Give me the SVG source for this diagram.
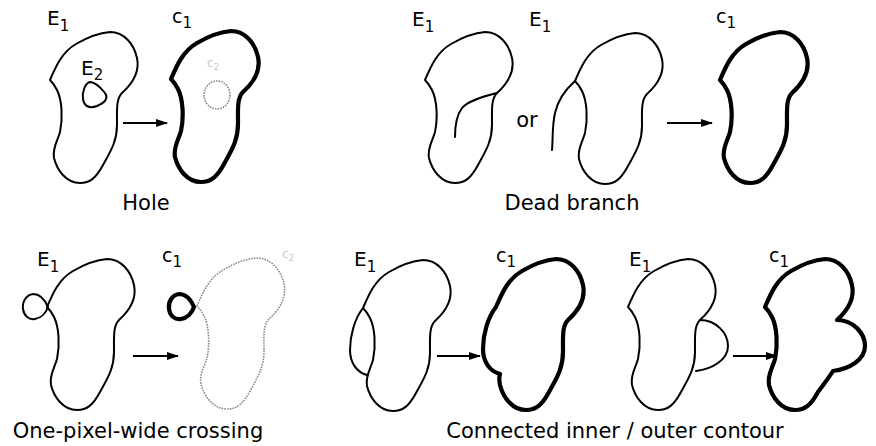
<svg xmlns="http://www.w3.org/2000/svg" xmlns:xlink="http://www.w3.org/1999/xlink" width="876" height="446" viewBox="0 0 876 446">
<style>
text{font-family:"DejaVu Sans","Liberation Sans",sans-serif;fill:#000}
.cap{font-size:21px;text-anchor:middle}
.lbl{font-size:20px}
.clbl{font-size:19px}
.sub{font-size:15px}
.ghost{font-size:12px;fill:#c8c8c8}
.thin{fill:none;stroke:#000;stroke-width:2;stroke-linejoin:round;stroke-linecap:round}
.thick{fill:none;stroke:#000;stroke-width:4.2;stroke-linejoin:round;stroke-linecap:round}
.gray{fill:none;stroke:#8a8a8a;stroke-width:1.6;stroke-dasharray:1.6 1.1}
.arrow{fill:none;stroke:#000;stroke-width:2}
</style>
<defs>
<path id="blob" d="M50,80 C56,66 62,52 76,44 C88,37 98,33 110,32 C124,32 134,44 137,58 C140,72 132,84 122,93 C116,99 117,110 117,125 C117,142 110,152 103,165 C96,178 90,183 80,183 C66,183 57,170 54,158 C52,148 58,140 60,132 C63,118 62,100 57,90 C55,86 53,83 50,80 Z"/>
<path id="blobLeft" d="M50,80 C56,66 62,52 76,44 C88,37 98,33 110,32 C124,32 134,44 137,58 C140,72 132,84 122,93 C116,99 117,110 117,125 C117,142 110,152 103,165 C96,178 90,183 80,183 C66,183 57,170 54,158 C53,153 53,150 54,147 C43,144 37,134 37,122 C37,107 42,90 50,80 Z"/>
<path id="blobRight" d="M50,80 C56,66 62,52 76,44 C88,37 98,33 110,32 C124,32 134,44 137,58 C140,72 132,84 122,93 C138,93 150,106 150,119 C150,133 134,142 118,144 C113,152 108,158 103,165 C96,178 90,183 80,183 C66,183 57,170 54,158 C52,148 58,140 60,132 C63,118 62,100 57,90 C55,86 53,83 50,80 Z"/>
<path id="loop" d="M48,307 C45,300 40,294 33,294 C26,295 22,302 23,309 C24,316 29,320 35,319 C41,318 46,313 48,307 Z"/>
<marker id="ah" markerWidth="12" markerHeight="8" refX="11" refY="4" orient="auto" markerUnits="userSpaceOnUse">
<path d="M0,0 L12,4 L0,8 Z" fill="#000"/>
</marker>
</defs>

<g id="hole-E1">
<use xlink:href="#blob" class="thin"/>
<text class="lbl" x="47" y="25">E<tspan class="sub" dy="6">1</tspan></text>
</g>
<g id="hole-E2">
<path class="thin" d="M90,82 C96,82 101,88 105,93 C109,99 104,103 97,106 C89,109 84,106 83,99 C82,92 85,83 90,82 Z"/>
<text class="lbl" x="81" y="75">E<tspan class="sub" dy="5">2</tspan></text>
</g>
<g id="hole-c1">
<use xlink:href="#blob" class="thick" transform="translate(121,-1)"/>
<text class="clbl" x="172" y="23">c<tspan class="sub" dy="5">1</tspan></text>
<ellipse class="gray" cx="217" cy="95" rx="13" ry="14"/>
<text class="ghost" x="207" y="67">c<tspan font-size="9" dy="3">2</tspan></text>
</g>
<text id="cap-hole" class="cap" x="146" y="210">Hole</text>

<g id="dead-E1a">
<use xlink:href="#blob" class="thin" transform="translate(375,0)"/>
<path class="thin" d="M497,93 C481,97 468,101 462,108 C456,116 455,126 455,137"/>
<text class="lbl" x="412" y="26">E<tspan class="sub" dy="6">1</tspan></text>
</g>
<text id="or" class="cap" x="527" y="127">or</text>
<g id="dead-E1b">
<use xlink:href="#blob" class="thin" transform="translate(525,1)"/>
<path class="thin" d="M575,81 C566,89 558,100 555,113 C552,126 553,140 552,150"/>
<text class="lbl" x="529" y="26">E<tspan class="sub" dy="6">1</tspan></text>
</g>
<g id="dead-c1">
<use xlink:href="#blob" class="thick" transform="translate(670,0)"/>
<text class="clbl" x="716" y="23">c<tspan class="sub" dy="5">1</tspan></text>
</g>
<text id="cap-dead" class="cap" x="572" y="210">Dead branch</text>

<g id="cross-E1">
<use xlink:href="#blob" class="thin" transform="translate(-3,227)"/>
<use xlink:href="#loop" class="thin"/>
<text class="lbl" x="37" y="266">E<tspan class="sub" dy="6">1</tspan></text>
</g>
<g id="cross-c1">
<use xlink:href="#loop" class="thick" transform="translate(146,0)"/>
<use xlink:href="#blob" class="gray" transform="translate(147,226)"/>
<text class="clbl" x="162" y="262">c<tspan class="sub" dy="5">1</tspan></text>
<text class="ghost" x="282" y="258">c<tspan font-size="9" dy="3">2</tspan></text>
</g>
<text id="cap-cross" class="cap" x="138" y="438">One-pixel-wide crossing</text>

<g id="inner-E1">
<use xlink:href="#blob" class="thin" transform="translate(313,228)"/>
<path class="thin" d="M363,308 C355,318 350,335 350,350 C350,362 356,372 367,375"/>
<text class="lbl" x="354" y="266">E<tspan class="sub" dy="6">1</tspan></text>
</g>
<g id="inner-c1">
<use xlink:href="#blobLeft" class="thick" transform="translate(446,227)"/>
<text class="clbl" x="496" y="262">c<tspan class="sub" dy="5">1</tspan></text>
</g>
<g id="outer-E1">
<use xlink:href="#blob" class="thin" transform="translate(578,227)"/>
<path class="thin" d="M700,320 C716,320 728,333 728,346 C728,360 712,369 696,371"/>
<text class="lbl" x="629" y="266">E<tspan class="sub" dy="6">1</tspan></text>
</g>
<g id="outer-c1">
<use xlink:href="#blobRight" class="thick" transform="translate(715,227)"/>
<text class="clbl" x="769" y="262">c<tspan class="sub" dy="5">1</tspan></text>
</g>
<text id="cap-conn" class="cap" x="615" y="438">Connected inner / outer contour</text>

<g id="connectors">
<line class="arrow" x1="123" y1="123" x2="167" y2="123" marker-end="url(#ah)"/>
<line class="arrow" x1="667" y1="123" x2="712" y2="123" marker-end="url(#ah)"/>
<line class="arrow" x1="133" y1="356" x2="178" y2="356" marker-end="url(#ah)"/>
<line class="arrow" x1="437" y1="356" x2="480" y2="356" marker-end="url(#ah)"/>
<line class="arrow" x1="733" y1="356" x2="777" y2="356" marker-end="url(#ah)"/>
</g>
</svg>
